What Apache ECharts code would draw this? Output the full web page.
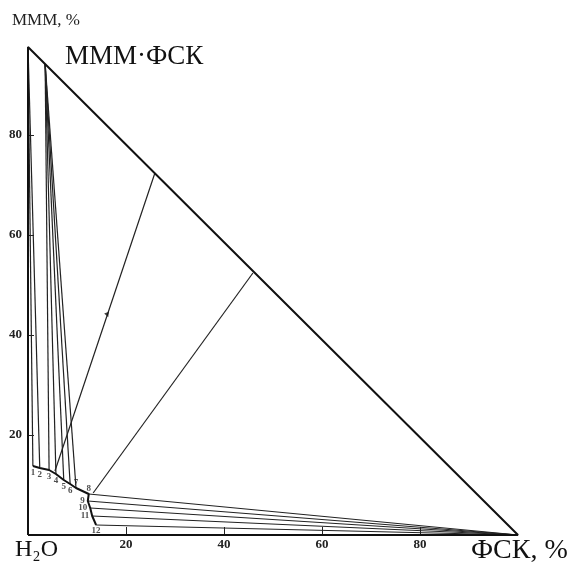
<!DOCTYPE html>
<html>
<head>
<meta charset="utf-8">
<script src="https://cdn.jsdelivr.net/npm/echarts@6/dist/echarts.min.js"></script>
<style>
  html, body { margin: 0; padding: 0; background: #fff; }
  #chart-container { width: 573px; height: 563px; }
</style>
</head>
<body>
<div id="chart-container"></div>
<script>
// вершины треугольника (ФСК %, МММ %)
const vertexH2O = [0, 0];
const vertexMMM = [0, 97.6];
const vertexFSK = [100, 0];
const compoundPoint = [3.5, 94.2]; // МММ·ФСК

// изотерма растворимости, точки 1..12
const isotherm = [
  [1.0, 13.8], [2.4, 13.4], [4.3, 13.0], [5.7, 12.2], [7.3, 11.0], [8.6, 10.2],
  [9.8, 9.4], [12.4, 8.2], [12.2, 6.8], [12.7, 5.4], [13.1, 3.8], [13.9, 2.0]
];
const pointNames = ['1', '2', '3', '4', '5', '6', '7', '8', '9', '10', '11', '12'];

// какие точки связаны коннодами с какой твёрдой фазой
const tiesToMMM = [0, 1];
const tiesToCompound = [2, 3, 4, 5, 6];
const tiesToFSK = [7, 8, 9, 10, 11];

// два луча к стороне МММ–ФСК
const rayA = [[5.5, 12.8], [25.9, 72.4]];
const rayB = [[13.3, 8.4], [45.9, 52.4]];
const arrowMark = [16.2, 44.0];

const xTickValues = [20, 40, 60, 80];
const yTickValues = [20, 40, 60, 80];

var dom = document.getElementById('chart-container');
var myChart = echarts.init(dom, null, { renderer: 'canvas' });

const serif = 'Liberation Serif';

function tieLines() {
  const out = [];
  tiesToMMM.forEach(i => out.push({ coords: [isotherm[i], vertexMMM] }));
  tiesToCompound.forEach(i => out.push({ coords: [isotherm[i], compoundPoint] }));
  tiesToFSK.forEach(i => out.push({ coords: [isotherm[i], vertexFSK] }));
  return out;
}

function labelSide(i) {
  if (i < 6) return { position: 'bottom', distance: 2 };
  if (i < 8) return { position: 'top', distance: 1 };
  if (i < 11) return { position: 'left', distance: 3 };
  return { position: 'bottom', distance: 1 };
}

var option = {
  backgroundColor: '#fff',
  animation: false,
  grid: { left: 28, right: 55, top: 35, bottom: 28 },
  xAxis: {
    type: 'value', min: 0, max: 100,
    axisLine: { show: false },
    splitLine: { show: false },
    axisTick: { show: true, inside: true, length: 8, customValues: xTickValues, lineStyle: { color: '#222' } },
    axisLabel: {
      customValues: xTickValues, margin: 3,
      fontFamily: serif, fontSize: 13, fontWeight: 'bold', color: '#222'
    }
  },
  yAxis: {
    type: 'value', min: 0, max: 100,
    axisLine: { show: false },
    splitLine: { show: false },
    axisTick: { show: true, inside: true, length: 6, customValues: yTickValues, lineStyle: { color: '#222' } },
    axisLabel: {
      customValues: yTickValues, margin: 6,
      fontFamily: serif, fontSize: 13, fontWeight: 'bold', color: '#222'
    }
  },
  graphic: [
    { type: 'text', left: 12, top: 12, style: { text: 'МММ, %', font: '17px "Liberation Serif"', fill: '#222' } },
    { type: 'text', left: 65, top: 43, style: { text: 'МММ·ФСК', font: '27px "Liberation Serif"', fill: '#111' } },
    { type: 'text', left: 15, top: 538, style: { text: 'H\u2082O', font: '24px "Liberation Serif"', fill: '#111' } },
    { type: 'text', left: 471, top: 537, style: { text: 'ФСК, %', font: '28px "Liberation Serif"', fill: '#111' } }
  ],
  series: [
    {
      name: 'triangle',
      type: 'line',
      data: [vertexH2O, vertexMMM, vertexFSK, vertexH2O],
      symbol: 'none',
      lineStyle: { color: '#111', width: 2 },
      z: 5
    },
    {
      name: 'ties',
      type: 'lines',
      coordinateSystem: 'cartesian2d',
      data: tieLines(),
      lineStyle: { color: '#222', width: 1.2, opacity: 1 },
      z: 3
    },
    {
      name: 'rays',
      type: 'lines',
      coordinateSystem: 'cartesian2d',
      data: [{ coords: rayA }, { coords: rayB }],
      lineStyle: { color: '#222', width: 1.2, opacity: 1 },
      z: 3
    },
    {
      name: 'isotherm',
      type: 'line',
      data: isotherm,
      symbol: 'none',
      lineStyle: { color: '#111', width: 2 },
      z: 4
    },
    {
      name: 'points',
      type: 'scatter',
      data: isotherm.map((p, i) => ({ value: p, label: labelSide(i) })),
      symbolSize: 0,
      label: {
        show: true,
        formatter: p => pointNames[p.dataIndex],
        fontFamily: serif, fontSize: 9, fontWeight: 'bold', color: '#222'
      },
      z: 6
    },
    {
      name: 'arrow',
      type: 'scatter',
      data: [arrowMark],
      symbol: 'triangle',
      symbolSize: 5,
      symbolRotate: 200,
      itemStyle: { color: '#111' },
      z: 6
    }
  ]
};

myChart.setOption(option);
window.addEventListener('resize', myChart.resize);
</script>
</body>
</html>
